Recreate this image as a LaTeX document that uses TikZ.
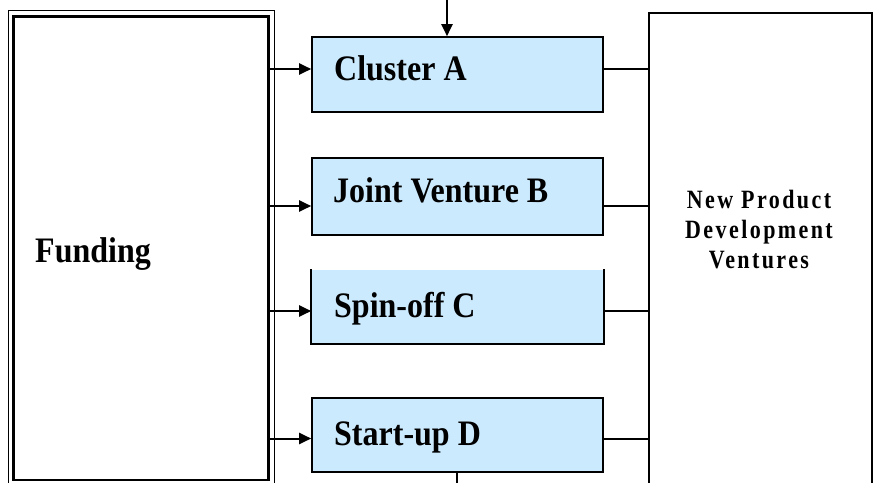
\documentclass[tikz,border=0pt]{standalone}
\usepackage{fontspec}
\setmainfont{Liberation Serif}
\newfontfamily\spacedserif[LetterSpace=11]{Liberation Serif}
\usetikzlibrary{arrows.meta}
\definecolor{boxfill}{RGB}{204,234,253}
\tikzset{
  x=1pt, y=-1pt,
  venture/.style={draw, line width=1.6pt, fill=boxfill, minimum width=291pt, inner sep=0pt},
  bigtext/.style={anchor=base west, inner sep=0pt, font=\fontsize{32}{36}\selectfont\bfseries},
  link/.style={line width=2pt},
  feed/.style={link, -{Triangle[length=12pt,width=11pt]}},
}
\newcommand{\tallbox}[1]{\scalebox{1}[1.12]{#1}}
\newcommand{\widebox}[1]{\scalebox{1}[1.2]{#1}}
\begin{document}
\begin{tikzpicture}
\useasboundingbox (0,0) rectangle (877,482);
\clip (0,0) rectangle (877,482);

% funding block with its double frame
\node[draw, line width=2.6pt, minimum width=255pt, minimum height=463.5pt, inner sep=0pt]
  (fund) at (141,248.25) {};
\coordinate (fo1) at (8.5,10.5);
\coordinate (fo2) at (274.5,486);
\draw[line width=1.1pt] (fo1) rectangle (fo2);
\node[bigtext] (fundlabel) at (35,262) {\tallbox{Funding}};

% venture boxes
\node[venture, minimum height=75pt] (A) at (457.5,74.5) {};
\node[venture, minimum height=77pt] (B) at (457.5,196.5) {};
\node[venture, draw=none, minimum height=73pt] (C) at (457.5,306.5) {};
\draw[line width=1.6pt] (C.north west) -- (C.south west) -- (C.south east) -- (C.north east);
\node[venture, minimum height=74pt] (D) at (457.5,435) {};

\node[bigtext] (Atext) at (334,80) {\tallbox{Cluster A}};
\node[bigtext] (Btext) at (333,202) {\tallbox{Joint Venture B}};
\node[bigtext] (Ctext) at (334,317) {\tallbox{Spin-off C}};
\node[bigtext] (Dtext) at (334,445) {\tallbox{Start-up D}};

% outcome block
\coordinate (np1) at (649,13);
\coordinate (np2) at (872,500);
\draw[line width=1.7pt] (np1) rectangle (np2);
\coordinate (npwest) at (649,0);
\node[font=\fontsize{22}{30}\selectfont\bfseries\spacedserif, align=center, anchor=base, inner sep=0pt]
  (nptext) at (759,268) {\widebox{New Product}\\\widebox{Development}\\\widebox{Ventures}};

% connector levels
\coordinate (ya) at (0,69);
\coordinate (yb) at (0,206);
\coordinate (yc) at (0,311);
\coordinate (yd) at (0,438.5);

\draw[feed] (fund.east |- ya) -- (A.west |- ya);
\draw[feed] (fund.east |- yb) -- (B.west |- yb);
\draw[feed] (fund.east |- yc) -- (C.west |- yc);
\draw[feed] (fund.east |- yd) -- (D.west |- yd);

\draw[link] (A.east |- ya) -- (npwest |- ya);
\draw[link] (B.east |- yb) -- (npwest |- yb);
\draw[link] (C.east |- yc) -- (npwest |- yc);
\draw[link] (D.east |- yd) -- (npwest |- yd);

% incoming arrow from above and outgoing line below
\coordinate (topin) at (447,0);
\draw[feed] (topin) -- (topin |- A.north);
\coordinate (botout) at (457,490);
\draw[link] (D.south -| botout) -- (botout);
\end{tikzpicture}
\end{document}
